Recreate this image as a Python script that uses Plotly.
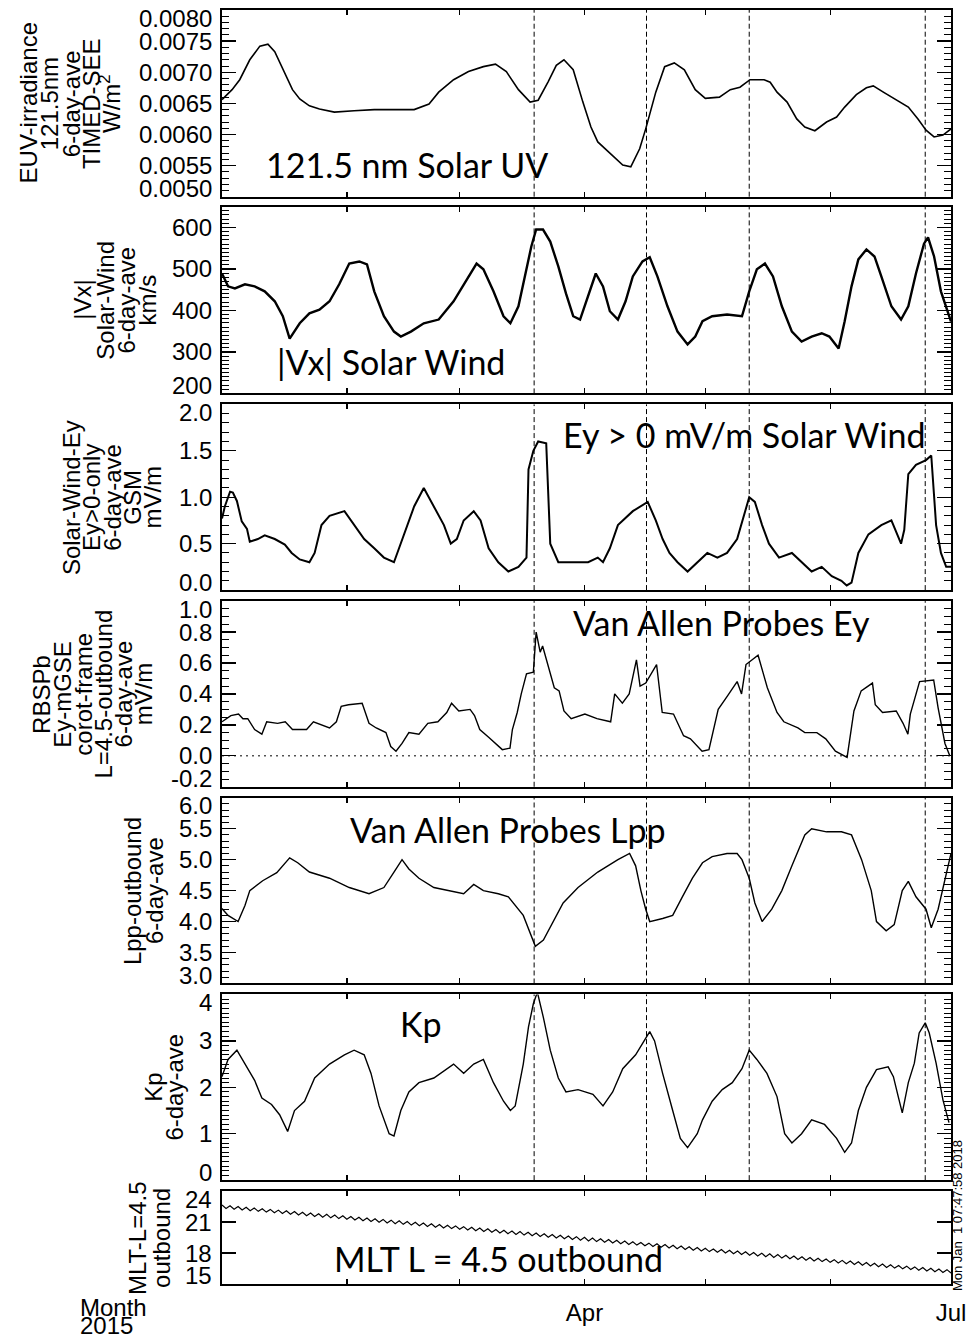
import plotly.graph_objects as go
import pandas as pd

# ---------------- data (days since 2015-01-01, values) ----------------
euv_days = [0.0, 2.5, 4.4, 6.9, 9.4, 11.4, 13.1, 15.6, 17.5, 19.3, 21.7, 24.2, 27.9, 32.8, 37.8, 42.7, 47.7,
            51.4, 53.8, 57.5, 61.2, 64.9, 67.9, 70.6, 73.6, 76.5, 78.5, 81.0, 83.0, 84.9, 87.2, 89.6, 91.6,
            93.3, 96.5, 99.5, 101.5, 103.7, 105.2, 107.7, 109.9, 112.3, 114.8, 117.5, 120.0, 123.5, 126.2,
            128.6, 131.1, 134.6, 136.1, 137.8, 140.3, 142.7, 144.7, 147.2, 150.1, 152.6, 154.6, 157.5, 160.0,
            161.7, 164.2, 166.9, 170.4, 172.8, 174.8, 176.8, 179.0, 181.0]
euv_vals = [0.00656, 0.00672, 0.00688, 0.00720, 0.00742, 0.00745, 0.00733, 0.00697, 0.00672, 0.00657, 0.00646,
            0.00641, 0.00636, 0.00638, 0.00640, 0.00640, 0.00640, 0.00649, 0.00668, 0.00688, 0.00701, 0.00709,
            0.00713, 0.00701, 0.00672, 0.00652, 0.00655, 0.00685, 0.00711, 0.00720, 0.00704, 0.00652, 0.00612,
            0.00588, 0.00569, 0.00551, 0.00548, 0.00577, 0.00609, 0.00668, 0.00709, 0.00715, 0.00704, 0.00672,
            0.00658, 0.00660, 0.00672, 0.00676, 0.00688, 0.00688, 0.00684, 0.00668, 0.00652, 0.00625, 0.00612,
            0.00606, 0.00620, 0.00628, 0.00644, 0.00664, 0.00675, 0.00678, 0.00668, 0.00658, 0.00644, 0.00625,
            0.00607, 0.00596, 0.00599, 0.00609]

vx_days = [0.0, 1.5, 3.2, 5.7, 8.1, 10.6, 13.1, 15.1, 16.8, 19.3, 21.7, 24.2, 26.7, 29.1, 31.6, 34.1, 36.0,
           37.8, 40.2, 42.7, 44.4, 46.9, 50.1, 53.8, 57.5, 60.7, 63.2, 64.9, 67.4, 69.9, 71.6, 73.6, 75.6,
           76.8, 78.0, 79.7, 81.5, 83.5, 85.4, 87.2, 88.9, 90.9, 92.8, 94.6, 96.3, 98.3, 100.2, 102.0, 104.4,
           106.2, 108.1, 110.6, 113.1, 115.6, 117.5, 119.3, 121.7, 125.4, 129.1, 130.9, 132.8, 134.8, 136.8,
           139.0, 141.5, 143.9, 146.4, 148.9, 150.8, 153.1, 154.6, 156.3, 158.0, 160.0, 162.0, 163.7, 166.2,
           168.6, 170.4, 172.3, 174.3, 175.3, 176.8, 178.5, 181.0]
vx_vals = [489, 458, 453, 463, 458, 446, 422, 386, 332, 369, 393, 402, 422, 463, 513, 518, 511, 446, 386, 349,
           337, 349, 369, 378, 422, 475, 513, 499, 446, 386, 369, 410, 499, 554, 595, 595, 566, 506, 441, 386,
           378, 436, 489, 458, 398, 378, 422, 482, 518, 528, 482, 410, 349, 318, 337, 374, 386, 390, 386, 446,
           499, 513, 482, 410, 349, 325, 337, 345, 337, 308, 374, 458, 523, 547, 530, 482, 410, 378, 410, 489,
           561, 576, 530, 446, 373]

swey_days = [0.0, 0.7, 2.0, 2.7, 3.7, 4.9, 6.2, 6.9, 8.9, 10.6, 13.1, 15.6, 17.3, 19.3, 21.7, 23.0, 24.7, 26.7,
             30.4, 32.8, 35.3, 37.8, 40.2, 42.7, 45.2, 47.7, 50.1, 51.9, 55.1, 56.8, 58.3, 60.0, 62.5, 64.2,
             66.2, 68.6, 71.1, 73.6, 75.6, 76.1, 77.3, 78.5, 80.5, 81.5, 83.5, 85.9, 90.9, 93.3, 94.6, 96.3,
             98.3, 102.0, 105.7, 107.7, 109.4, 111.1, 113.1, 115.6, 118.0, 120.5, 123.0, 125.4, 127.9, 129.9,
             130.9, 132.3, 134.1, 135.8, 138.3, 141.5, 143.9, 146.4, 148.9, 151.4, 153.8, 155.1, 156.3, 158.0,
             160.5, 163.7, 166.2, 168.6, 169.4, 170.4, 172.3, 174.8, 176.1, 177.3, 178.5, 179.8, 181.0]
swey_vals = [0.77, 0.90, 1.06, 1.05, 0.96, 0.74, 0.66, 0.52, 0.55, 0.59, 0.55, 0.49, 0.40, 0.33, 0.30, 0.40,
             0.70, 0.80, 0.85, 0.70, 0.55, 0.45, 0.35, 0.30, 0.60, 0.90, 1.10, 0.95, 0.70, 0.50, 0.55, 0.75,
             0.85, 0.75, 0.45, 0.30, 0.20, 0.25, 0.35, 1.30, 1.50, 1.60, 1.58, 0.50, 0.30, 0.30, 0.30, 0.35,
             0.30, 0.45, 0.70, 0.85, 0.95, 0.75, 0.55, 0.40, 0.30, 0.20, 0.30, 0.40, 0.35, 0.40, 0.55, 0.85,
             1.00, 0.95, 0.70, 0.50, 0.35, 0.40, 0.30, 0.20, 0.25, 0.15, 0.10, 0.05, 0.08, 0.40, 0.60, 0.70,
             0.75, 0.50, 0.65, 1.25, 1.35, 1.40, 1.45, 0.70, 0.40, 0.25, 0.25]

rbey_days = [0.0, 2.2, 4.1, 5.2, 6.4, 8.1, 9.9, 11.1, 13.8, 15.7, 17.5, 21.0, 22.7, 26.7, 28.4, 29.6, 31.4,
             34.8, 36.5, 38.3, 40.7, 41.9, 43.2, 44.7, 46.4, 48.9, 51.1, 53.6, 55.8, 57.0, 58.8, 61.6, 62.7,
             64.0, 66.2, 68.6, 69.6, 71.5, 72.1, 73.3, 74.3, 75.6, 77.3, 78.0, 79.0, 79.6, 80.7, 82.5, 83.7,
             84.9, 86.7, 90.1, 93.1, 96.5, 97.5, 99.4, 101.1, 102.9, 103.8, 105.2, 107.9, 109.3, 112.1, 114.6,
             116.3, 119.2, 120.9, 123.2, 125.6, 127.9, 129.0, 130.1, 133.1, 135.4, 137.8, 139.5, 143.0, 144.7,
             147.7, 149.9, 152.3, 155.2, 156.9, 158.7, 161.5, 162.2, 164.0, 167.4, 169.1, 170.3, 170.9, 173.2,
             176.7, 177.8, 179.5, 180.7]
rbey_vals = [0.22, 0.26, 0.27, 0.24, 0.24, 0.17, 0.14, 0.22, 0.21, 0.22, 0.17, 0.17, 0.22, 0.18, 0.22, 0.32,
             0.33, 0.34, 0.21, 0.18, 0.15, 0.06, 0.03, 0.08, 0.15, 0.14, 0.21, 0.22, 0.28, 0.34, 0.29, 0.30,
             0.26, 0.17, 0.12, 0.06, 0.04, 0.05, 0.17, 0.28, 0.40, 0.53, 0.54, 0.80, 0.67, 0.71, 0.61, 0.44,
             0.42, 0.29, 0.24, 0.27, 0.24, 0.22, 0.40, 0.34, 0.40, 0.62, 0.45, 0.47, 0.59, 0.28, 0.27, 0.13,
             0.11, 0.03, 0.04, 0.30, 0.39, 0.48, 0.40, 0.59, 0.65, 0.44, 0.28, 0.22, 0.18, 0.15, 0.15, 0.11,
             0.03, -0.01, 0.29, 0.42, 0.47, 0.33, 0.28, 0.29, 0.21, 0.14, 0.27, 0.48, 0.49, 0.31, 0.08, 0.00]

lpp_days = [0.0, 1.5, 4.0, 5.7, 6.9, 10.1, 13.6, 16.8, 18.8, 21.7, 26.7, 31.6, 36.5, 40.2, 42.7, 44.7, 46.4,
            48.9, 52.6, 56.3, 60.0, 62.5, 64.9, 68.6, 71.1, 74.8, 76.5, 77.8, 79.8, 82.2, 84.7, 88.4, 93.3,
            98.3, 101.2, 102.7, 104.0, 105.2, 106.2, 109.4, 111.9, 114.3, 116.8, 119.3, 121.7, 125.4, 127.9,
            129.1, 130.9, 132.3, 134.1, 136.5, 139.0, 141.5, 143.4, 144.7, 146.4, 150.1, 153.8, 156.3, 158.8,
            161.2, 162.5, 164.9, 166.9, 168.9, 170.4, 172.3, 174.8, 176.1, 177.8, 179.3, 181.0]
lpp_vals = [4.21, 4.10, 4.00, 4.26, 4.50, 4.66, 4.79, 5.03, 4.95, 4.80, 4.70, 4.55, 4.45, 4.55, 4.80, 5.00,
            4.85, 4.70, 4.55, 4.50, 4.45, 4.60, 4.50, 4.45, 4.40, 4.10, 3.80, 3.60, 3.70, 4.00, 4.30, 4.55,
            4.80, 5.00, 5.10, 4.90, 4.50, 4.20, 4.00, 4.05, 4.10, 4.40, 4.70, 4.95, 5.05, 5.10, 5.10, 5.00,
            4.70, 4.30, 4.00, 4.20, 4.50, 4.90, 5.20, 5.40, 5.50, 5.45, 5.45, 5.40, 5.00, 4.50, 4.00, 3.85,
            3.95, 4.50, 4.65, 4.40, 4.20, 3.90, 4.20, 4.60, 5.10]

kp_days = [0.0, 1.5, 3.7, 5.7, 8.1, 9.9, 12.3, 14.3, 16.3, 18.0, 20.5, 23.0, 26.7, 30.4, 32.8, 35.3, 37.0,
           39.0, 41.5, 42.7, 44.4, 46.4, 48.9, 52.6, 55.8, 57.5, 60.0, 62.5, 64.9, 67.4, 69.9, 71.6, 72.8,
           74.8, 76.1, 77.3, 78.3, 79.8, 81.5, 83.5, 85.4, 88.4, 92.1, 94.6, 97.0, 99.5, 102.7, 106.2, 107.4,
           109.4, 111.9, 113.8, 115.6, 118.0, 119.3, 121.7, 124.2, 126.7, 129.1, 130.9, 132.8, 135.3, 137.8,
           139.7, 141.5, 143.9, 146.4, 149.6, 152.6, 154.6, 156.3, 158.0, 160.0, 162.5, 165.4, 166.7, 167.9,
           168.9, 170.4, 171.9, 173.1, 174.6, 175.6, 177.3, 179.0, 180.5]
kp_vals = [2.23, 2.60, 2.80, 2.50, 2.15, 1.77, 1.63, 1.41, 1.05, 1.50, 1.70, 2.20, 2.50, 2.70, 2.80, 2.70, 2.30,
           1.60, 1.00, 0.95, 1.50, 1.90, 2.10, 2.20, 2.40, 2.50, 2.30, 2.50, 2.60, 2.10, 1.70, 1.50, 1.60, 2.50,
           3.30, 3.80, 4.05, 3.50, 2.80, 2.20, 1.90, 1.95, 1.85, 1.60, 1.90, 2.40, 2.70, 3.20, 3.00, 2.30, 1.50,
           0.90, 0.70, 1.00, 1.30, 1.70, 1.95, 2.10, 2.40, 2.80, 2.60, 2.30, 1.80, 1.00, 0.80, 1.00, 1.30, 1.20,
           0.90, 0.60, 0.80, 1.50, 2.00, 2.38, 2.44, 2.23, 1.80, 1.45, 2.10, 2.52, 3.17, 3.39, 3.17, 2.52, 1.73,
           1.24]

mlt_days = list(range(0, 182))
mlt_vals = [22.65, 22.32, 22.58, 22.25, 22.51, 22.18, 22.44, 22.11, 22.37, 22.04,
            22.30, 21.97, 22.23, 21.90, 22.16, 21.83, 22.09, 21.76, 22.02, 21.69,
            21.95, 21.62, 21.88, 21.55, 21.81, 21.48, 21.75, 21.41, 21.68, 21.34,
            21.61, 21.27, 21.54, 21.20, 21.47, 21.13, 21.40, 21.06, 21.33, 20.99,
            21.26, 20.92, 21.19, 20.85, 21.12, 20.78, 21.05, 20.71, 20.98, 20.65,
            20.91, 20.58, 20.84, 20.51, 20.77, 20.44, 20.70, 20.37, 20.63, 20.30,
            20.56, 20.23, 20.49, 20.16, 20.42, 20.09, 20.35, 20.02, 20.28, 19.95,
            20.21, 19.88, 20.14, 19.81, 20.08, 19.74, 20.01, 19.67, 19.94, 19.60,
            19.87, 19.53, 19.80, 19.46, 19.73, 19.39, 19.66, 19.32, 19.59, 19.25,
            19.52, 19.18, 19.45, 19.11, 19.38, 19.04, 19.31, 18.97, 19.24, 18.91,
            19.17, 18.84, 19.10, 18.77, 19.03, 18.70, 18.96, 18.63, 18.89, 18.56,
            18.82, 18.49, 18.75, 18.42, 18.68, 18.35, 18.61, 18.28, 18.54, 18.21,
            18.47, 18.14, 18.40, 18.07, 18.34, 18.00, 18.27, 17.93, 18.20, 17.86,
            18.13, 17.79, 18.06, 17.72, 17.99, 17.65, 17.92, 17.58, 17.85, 17.51,
            17.78, 17.44, 17.71, 17.37, 17.64, 17.30, 17.57, 17.23, 17.50, 17.17,
            17.43, 17.10, 17.36, 17.03, 17.29, 16.96, 17.22, 16.89, 17.15, 16.82,
            17.08, 16.75, 17.01, 16.68, 16.94, 16.61, 16.87, 16.54, 16.80, 16.47,
            16.73, 16.40, 16.66, 16.33, 16.60, 16.26, 16.53, 16.19, 16.46, 16.12,
            16.39, 16.05]

event_days = [77.5, 105.4, 130.9, 174.6]

x_label_ticks = ["2015-04-01", "2015-07-01"]
x_label_text = ["Apr", "Jul"]

y_titles = [
    ["EUV-irradiance", "121.5nm", "6-day-ave", "TIMED-SEE", "W/m<sup>2</sup>"],
    ["|Vx|", "Solar-Wind", "6-day-ave", "km/s"],
    ["Solar-Wind-Ey", "Ey>0-only", "6-day-ave", "GSM", "mV/m"],
    ["RBSPb", "Ey-mGSE", "corot-frame", "L=4.5-outbound", "6-day-ave", "mV/m"],
    ["Lpp-outbound", "6-day-ave"],
    ["Kp", "6-day-ave"],
    ["MLT-L=4.5", "outbound"],
]
panel_labels = ["121.5 nm Solar UV", "|Vx| Solar Wind", "Ey > 0 mV/m Solar Wind", "Van Allen Probes Ey",
                "Van Allen Probes Lpp", "Kp", "MLT L = 4.5 outbound"]

y_ranges = [[0.0050, 0.0080], [200, 650], [0.0, 2.0], [-0.2, 1.0], [3.0, 6.0], [0.0, 4.0], [15, 24]]
y_tickvals = [[0.0050, 0.0055, 0.0060, 0.0065, 0.0070, 0.0075, 0.0080],
              [200, 300, 400, 500, 600],
              [0.0, 0.5, 1.0, 1.5, 2.0],
              [-0.2, 0.0, 0.2, 0.4, 0.6, 0.8, 1.0],
              [3.0, 3.5, 4.0, 4.5, 5.0, 5.5, 6.0],
              [0, 1, 2, 3, 4],
              [15, 18, 21, 24]]
y_ticktext = [["0.0050", "0.0055", "0.0060", "0.0065", "0.0070", "0.0075", "0.0080"],
              ["200", "300", "400", "500", "600"],
              ["0.0", "0.5", "1.0", "1.5", "2.0"],
              ["-0.2", "0.0", "0.2", "0.4", "0.6", "0.8", "1.0"],
              ["3.0", "3.5", "4.0", "4.5", "5.0", "5.5", "6.0"],
              ["0", "1", "2", "3", "4"],
              ["15", "18", "21", "24"]]
y_dtick = [0.0005, 100, 0.5, 0.2, 0.5, 1, 3]
y_minor = [0.0001, 10, 0.1, 0.05, 0.1, 0.1, None]

series = [(euv_days, euv_vals, 1.6), (vx_days, vx_vals, 2.4), (swey_days, swey_vals, 2.0),
          (rbey_days, rbey_vals, 1.4), (lpp_days, lpp_vals, 1.4), (kp_days, kp_vals, 1.4),
          (mlt_days, mlt_vals, 1.2)]

# ---------------- geometry (page pixels) ----------------
W, H = 974, 1339
L, R, T, B = 222, 955, 8, 1284
panels_px = [(8, 195), (205, 392), (403, 589), (600, 786), (797, 983), (994, 1180), (1191, 1284)]
title_x = [[27, 48, 71, 91, 110], [81, 104, 126, 147], [70, 91, 112, 132, 152],
           [41, 62, 83, 103, 123, 144], [132, 154], [153, 174], [137, 161]]
label_pos = [(408, 163), (392, 360), (747, 433), (724, 621), (510, 829), (422, 1023), (500, 1258)]


def px(p):
    return (p - L) / (R - L)


def py(p):
    return (B - p) / (B - T)


T0 = pd.Timestamp("2015-01-01")


def to_dates(days):
    return [T0 + pd.Timedelta(days=d) for d in days]


TICKFONT = dict(family="Liberation Sans, Arial, sans-serif", size=24, color="black")
LABELFONT = dict(family="Lato, Open Sans, sans-serif", size=34, color="black")

fig = go.Figure()
annotations = []
shapes = []

for i, (days, vals, lw) in enumerate(series):
    k = i + 1
    sfx = "" if k == 1 else str(k)
    fig.add_trace(go.Scatter(x=to_dates(days), y=vals, mode="lines",
                             line=dict(color="black", width=lw), xaxis="x" + sfx, yaxis="y" + sfx,
                             showlegend=False, hoverinfo="skip"))
    top, bot = panels_px[i]
    yax = dict(domain=[py(bot), py(top)], range=y_ranges[i], anchor="x" + sfx,
               showline=True, linewidth=2, linecolor="black", mirror="allticks",
               ticks="inside", ticklen=14, tickwidth=1.3, tickcolor="black",
               tick0=y_ranges[i][0], dtick=y_dtick[i], showticklabels=False,
               showgrid=False, zeroline=False, fixedrange=True)
    if y_minor[i] is not None:
        yax["minor"] = dict(ticks="inside", ticklen=7, tickwidth=1, tickcolor="black",
                            tick0=y_ranges[i][0], dtick=y_minor[i], showgrid=False)
    xax = dict(domain=[0, 1], range=["2015-01-01", "2015-07-01"], type="date", anchor="y" + sfx,
               showline=True, linewidth=2, linecolor="black", mirror="allticks",
               ticks="inside", ticklen=5, tickwidth=1.3, tickcolor="black",
               tickmode="array", tickvals=x_label_ticks, ticktext=x_label_text,
               minor=dict(ticks="inside", ticklen=5, tickwidth=1.3, tickcolor="black",
                          tick0="2015-01-01", dtick="M1", showgrid=False),
               showticklabels=(k == 7), tickfont=TICKFONT, ticklabelstandoff=6,
               showgrid=False, zeroline=False, fixedrange=True)
    fig.layout["yaxis" + sfx] = yax
    fig.layout["xaxis" + sfx] = xax

    # y tick labels, nudged inward at the panel ends
    for v, t in zip(y_tickvals[i], y_ticktext[i]):
        shift = 0
        if v == y_ranges[i][1]:
            shift = -8
        elif v == y_ranges[i][0]:
            shift = 8
        annotations.append(dict(xref="paper", yref="y" + sfx, x=0, y=v, text=t, showarrow=False,
                                xanchor="right", yanchor="middle", xshift=-9, yshift=shift,
                                font=TICKFONT, borderpad=0))

    # rotated y titles
    ymid = (top + bot) / 2
    for tx, line in zip(title_x[i], y_titles[i]):
        annotations.append(dict(xref="paper", yref="paper", x=px(tx), y=py(ymid), text=line,
                                textangle=-90, showarrow=False, xanchor="center", yanchor="middle",
                                font=TICKFONT, borderpad=0))

    # panel label
    lx, ly = label_pos[i]
    annotations.append(dict(xref="paper", yref="paper", x=px(lx), y=py(ly), text=panel_labels[i],
                            showarrow=False, xanchor="center", yanchor="middle", font=LABELFONT))

    # event lines
    if k <= 6:
        for d in event_days:
            t = T0 + pd.Timedelta(days=d)
            shapes.append(dict(type="line", xref="x" + sfx, yref=("y" + sfx + " domain"),
                               x0=t, x1=t, y0=0, y1=1, line=dict(color="black", width=1, dash="5px,3px")))

# zero line in the RBSP Ey panel
shapes.append(dict(type="line", xref="x4 domain", yref="y4", x0=0, x1=1, y0=0, y1=0,
                   line=dict(color="black", width=1, dash="2px,4px")))

annotations.append(dict(xref="paper", yref="paper", x=px(78), y=py(1308), text="Month", showarrow=False,
                        xanchor="left", yanchor="middle", font=TICKFONT, borderpad=0))
annotations.append(dict(xref="paper", yref="paper", x=px(78), y=py(1326), text="2015", showarrow=False,
                        xanchor="left", yanchor="middle", font=TICKFONT, borderpad=0))
annotations.append(dict(xref="paper", yref="paper", x=px(961), y=py(1215), text="Mon Jan  1 07:47:58 2018",
                        textangle=-90, showarrow=False, xanchor="center", yanchor="middle",
                        font=dict(family="Liberation Sans, Arial, sans-serif", size=13, color="black")))

fig.update_layout(width=W, height=H,
                  margin=dict(l=L, r=W - R, t=T, b=H - B, pad=0),
                  paper_bgcolor="white", plot_bgcolor="white",
                  annotations=annotations, shapes=shapes, showlegend=False)

page_css = ("document.documentElement.style.overflow='hidden';"
            "document.body.style.overflow='hidden';"
            "document.body.style.margin='0';")
fig.write_html("out.html", post_script=page_css, config={"displayModeBar": False, "staticPlot": True})
